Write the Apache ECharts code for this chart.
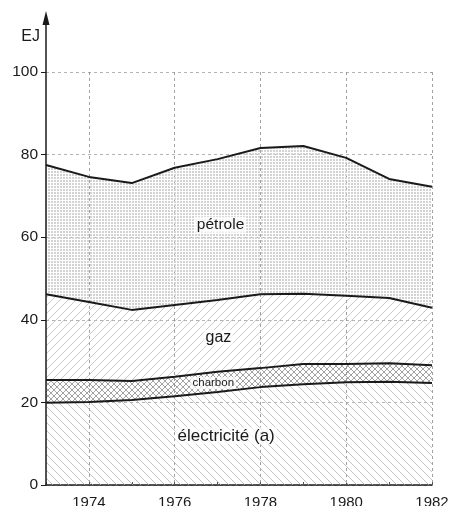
<!DOCTYPE html>
<html>
<head>
<meta charset="utf-8">
<script src="https://cdn.jsdelivr.net/npm/echarts@6/dist/echarts.min.js"></script>
<style>
html,body{margin:0;padding:0;background:#fff;}
#chart{width:451px;height:506px;}
</style>
</head>
<body>
<div id="chart"></div>
<script>
// Data (EJ), stacked from bottom to top
var years = ['1973', '1974', '1975', '1976', '1977', '1978', '1979', '1980', '1981', '1982'];
var electricite = [19.9, 20.1, 20.6, 21.5, 22.5, 23.7, 24.4, 24.9, 25.0, 24.7];
var charbon     = [5.5, 5.3, 4.6, 4.7, 4.9, 4.6, 4.9, 4.4, 4.5, 4.3];
var gaz         = [20.8, 18.9, 17.2, 17.4, 17.4, 17.9, 17.0, 16.5, 15.8, 13.9];
var petrole     = [31.3, 30.3, 30.7, 33.2, 34.1, 35.4, 35.8, 33.4, 28.8, 29.3];
var xTickLabels = ['1974', '1976', '1978', '1980', '1982'];
var areaLabels = [
  {text: 'pétrole', x: 4.07, y: 63, size: 15.5},
  {text: 'gaz', x: 4.02, y: 35.6, size: 16},
  {text: 'charbon', x: 3.9, y: 24.7, size: 11.5},
  {text: 'électricité (a)', x: 4.2, y: 11.9, size: 17}
];

function hatchCanvas(size, dirs, color, lw){
  var c = document.createElement('canvas');
  c.width = size; c.height = size;
  var g = c.getContext('2d');
  g.strokeStyle = color; g.lineWidth = lw;
  dirs.forEach(function(d){
    for (var k = -size; k <= size; k += size){
      g.beginPath();
      if (d === '/') { g.moveTo(k, size); g.lineTo(k + size, 0); }
      else { g.moveTo(k, 0); g.lineTo(k + size, size); }
      g.stroke();
    }
  });
  return c;
}
function dotCanvas(){
  var c = document.createElement('canvas');
  c.width = 3; c.height = 3;
  var g = c.getContext('2d');
  g.fillStyle = '#d3d3d3';
  g.fillRect(0, 0, 2, 2);
  return c;
}

var patElec = hatchCanvas(8, ['\\'], '#b4b4b4', 0.8);
var patCharbon = hatchCanvas(6, ['/', '\\'], '#8c8c8c', 0.8);
var patGaz = hatchCanvas(8, ['/'], '#bcbcbc', 0.8);
var patPetrole = dotCanvas();

var font = '"Liberation Sans", Arial, sans-serif';
var chart = echarts.init(document.getElementById('chart'));

function isTickYear(idx){ return xTickLabels.indexOf(years[idx]) >= 0; }

function mkSeries(name, data, pat){
  return {
    name: name, type: 'line', stack: 'total', data: data,
    symbol: 'none', smooth: false,
    lineStyle: {color: '#1a1a1a', width: 2},
    areaStyle: {color: {image: pat, repeat: 'repeat'}, opacity: 1},
    silent: true
  };
}

var option = {
  animation: false,
  backgroundColor: '#fff',
  grid: {left: 46, right: 19, top: 72, bottom: 21, containLabel: false, outerBoundsMode: 'none'},
  xAxis: {
    type: 'category', data: years, boundaryGap: false,
    axisLine: {show: true, lineStyle: {color: '#1a1a1a', width: 1.5}},
    axisTick: {show: true, inside: true, length: 3, interval: 0, lineStyle: {color: '#555'}},
    axisLabel: {
      color: '#1a1a1a', fontSize: 15, fontFamily: font, margin: 10,
      interval: function(i){ return isTickYear(i); }
    },
    splitLine: {show: true, interval: function(i){ return isTickYear(i); },
      lineStyle: {color: '#8a8a8a', width: 0.8, type: [3, 3]}}
  },
  yAxis: {
    type: 'value', min: 0, max: 100, interval: 20,
    axisLine: {show: false},
    axisTick: {show: true, length: 5, lineStyle: {color: '#1a1a1a'}},
    axisLabel: {color: '#1a1a1a', fontSize: 15.5, fontFamily: font, margin: 8},
    splitLine: {show: true, lineStyle: {color: '#a0a0a0', width: 0.8, type: [3, 3]}}
  },
  series: [
    mkSeries('électricité (a)', electricite, patElec),
    mkSeries('charbon', charbon, patCharbon),
    mkSeries('gaz', gaz, patGaz),
    mkSeries('pétrole', petrole, patPetrole)
  ]
};
chart.setOption(option);

function px(xIdx, y){
  var i0 = Math.floor(xIdx), f = xIdx - i0;
  var a = chart.convertToPixel({gridIndex: 0}, [i0, y]);
  var b = chart.convertToPixel({gridIndex: 0}, [i0 + 1, y]);
  return [a[0] + (b[0] - a[0]) * f, a[1]];
}

// Axis arrow, unit label and area labels, positioned from data space
var p0 = px(0, 0);
var pTop = px(0, 100);
var ax = p0[0];
var tipY = pTop[1] - 61;
var graphics = [
  {type: 'line', shape: {x1: ax, y1: p0[1], x2: ax, y2: tipY + 10}, style: {stroke: '#1a1a1a', lineWidth: 1.5}, z: 10},
  {type: 'polygon', shape: {points: [[ax, tipY], [ax - 3.5, tipY + 14], [ax + 3.5, tipY + 14]]}, style: {fill: '#1a1a1a'}, z: 10},
  {type: 'text', x: ax - 6, y: pTop[1] - 35, style: {text: 'EJ', fill: '#1a1a1a', font: '16px ' + font, align: 'right', verticalAlign: 'middle'}, z: 10}
];
areaLabels.forEach(function(l){
  var p = px(l.x, l.y);
  graphics.push({type: 'text', x: p[0], y: p[1], z: 10,
    style: {text: l.text, fill: '#1a1a1a', font: l.size + 'px ' + font, align: 'center', verticalAlign: 'middle',
      backgroundColor: 'rgba(255,255,255,0.75)', padding: [0, 2]}});
});
chart.setOption({graphic: graphics});
</script>
</body>
</html>
